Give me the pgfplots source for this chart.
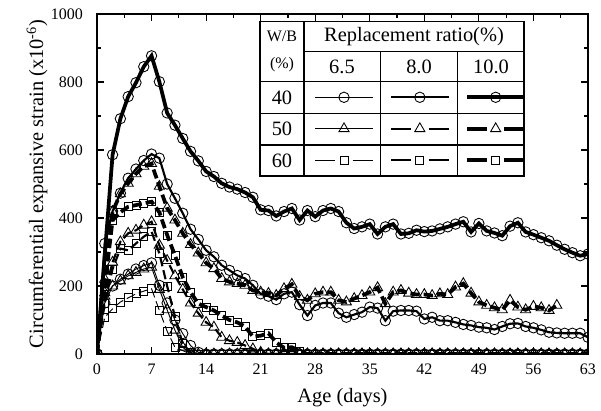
\documentclass[border=0pt]{standalone}
\usepackage{fontspec}
\setmainfont{Liberation Serif}
\usepackage{pgfplots}
\pgfplotsset{compat=1.18}

% legend glyphs: one cell of the W/B x ratio table
\pgfplotsset{
  legsolid/.style={legend image code/.code={
      \path[draw=none,fill=none] (-27.94pt,-11.78pt) rectangle (27.94pt,11.78pt);
      \draw[##1,solid] (-21.5pt,0pt) -- (21.5pt,0pt);
      \draw[##1,only marks] plot coordinates {(0pt,0pt)};}},
  leggap/.style={legend image code/.code={
      \path[draw=none,fill=none] (-27.94pt,-11.78pt) rectangle (27.94pt,11.78pt);
      \draw[##1,solid] (-21.5pt,0pt) -- (-6.5pt,0pt) (6.5pt,0pt) -- (21.5pt,0pt);
      \draw[##1,only marks] plot coordinates {(0pt,0pt)};}},
  lw1/.style={line width=0.7pt},
  lw2/.style={line width=1.6pt},
  lw3/.style={line width=2.8pt},
  dsh/.style={dash pattern=on 7pt off 3pt},
  mk/.style={mark options={solid,fill=white,line width=0.65pt}},
  circ/.style={mark=o,mark size=3.9pt},
  tri/.style={mark=triangle,mark size=4.4pt},
  sqr/.style={mark=square,mark size=3pt},
}

\begin{document}
\begin{tikzpicture}
\begin{axis}[
    scale only axis,
    width=368.25pt, height=255pt,
    xmin=0, xmax=63, ymin=0, ymax=1000,
    xtick={0,7,...,63}, ytick={0,200,...,1000},
    minor x tick num=1, minor y tick num=1,
    tick align=inside, tick pos=both,
    major tick length=5pt, minor tick length=3pt,
    every tick/.style={black,line width=0.9pt},
    axis line style={line width=1.1pt},
    /pgf/number format/assume math mode=true,
    /pgf/number format/1000 sep={},
    ticklabel style={font=\fontsize{12}{14}\selectfont},
    xticklabel style={yshift=-4pt},
    yticklabel style={xshift=-7pt},
    label style={font=\fontsize{15.3}{17}\selectfont},
    xlabel={Age (days)},
    ylabel={Circumferential expansive strain (x10\textsuperscript{-6})},
    xlabel style={at={(axis description cs:0.5,-0.127)},anchor=center},
    ylabel style={at={(axis description cs:-0.122,0.5)},anchor=center},
    clip marker paths=true,
    legend columns=3,
    legend style={at={(rel axis cs:0.4272,0.8012)},anchor=north west,
      draw=none,fill=none,inner sep=0pt,outer sep=0pt,
      row sep=0pt,column sep=0pt,
      nodes={inner sep=0pt,outer sep=0pt}},
  ]

% W/B 40, 6.5
\addplot[lw1,circ,mk,legsolid] coordinates {
(0,0) (1,150) (2,200) (3,220) (4,235) (5,250) (6,260) (7,268) (8,202) (9,150)
(10,100) (11,60) (12,25) (13,5) (14,0) (15,0) (16,0) (17,0) (18,0) (19,0) (20,0)
(21,0) (22,0) (23,0) (24,0) (25,0) (26,0) (27,0) (28,0) (29,0) (30,0) (31,0)
(32,0) (33,0) (34,0) (35,0) (36,0) (37,0) (38,0) (39,0) (40,0) (41,0) (42,0)
(43,0) (44,0) (45,0) (46,0) (47,0) (48,0) (49,0) (50,0) (51,0) (52,0) (53,0)
(54,0) (55,0) (56,0) (57,0) (58,0) (59,0) (60,0) (61,0) (62,0) (63,0)};
\addlegendentry{\mbox{}}
% W/B 40, 8.0
\addplot[lw2,circ,mk,legsolid] coordinates {
(0,0) (1,325) (2,420) (3,473) (4,517) (5,544) (6,569) (7,588) (8,576) (9,500)
(10,458) (11,414) (12,367) (13,337) (14,305) (15,286) (16,261) (17,246) (18,231)
(19,222) (20,202) (21,177) (22,170) (23,160) (24,177) (25,182) (26,145) (27,113)
(28,143) (29,150) (30,150) (31,120) (32,108) (33,116) (34,123) (35,138) (36,135)
(37,98) (38,126) (39,128) (40,128) (41,126) (42,103) (43,108) (44,98) (45,98)
(46,93) (47,87) (48,84) (49,79) (50,77) (51,72) (52,81) (53,89) (54,90) (55,81)
(56,77) (57,71) (58,64) (59,62) (60,61) (61,61) (62,61) (63,49)};
\addlegendentry{\mbox{}}
% W/B 40, 10.0
\addplot[lw3,circ,mk,legsolid] coordinates {
(0,0) (2,586) (3,692) (4,757) (5,798) (6,845) (7,877) (8,801) (9,709) (10,673)
(11,634) (12,596) (13,568) (14,537) (15,522) (16,502) (17,491) (18,485) (19,475)
(20,461) (21,424) (22,422) (23,406) (24,419) (25,428) (26,394) (27,422) (28,404)
(29,422) (30,428) (31,419) (32,386) (33,369) (34,374) (35,382) (36,353) (37,374)
(38,382) (39,353) (40,355) (41,364) (42,360) (43,362) (44,368) (45,374) (46,382)
(47,389) (48,359) (49,384) (50,362) (51,356) (52,348) (53,376) (54,386) (55,359)
(56,351) (57,342) (58,333) (59,320) (60,308) (61,298) (62,289) (63,294)};
\addlegendentry{\mbox{}}

% W/B 50, 6.5
\addplot[lw1,tri,mk,legsolid] coordinates {
(0,0) (1,170) (2,200) (3,215) (4,230) (5,240) (6,250) (7,255) (8,190) (9,130)
(10,70) (11,20) (12,0) (13,0) (14,0) (15,0) (16,0) (17,0) (18,0) (19,0) (20,0)
(21,0) (22,0) (23,0) (24,0) (25,0) (26,0) (27,0) (28,0) (29,0) (30,0) (31,0)
(32,0) (33,0) (34,0) (35,0) (36,0) (37,0) (38,0) (39,0) (40,0) (41,0) (42,0)
(43,0) (44,0) (45,0) (46,0) (47,0) (48,0) (49,0) (50,0) (51,0) (52,0) (53,0)
(54,0) (55,0) (56,0) (57,0) (58,0) (59,0) (60,0) (61,0) (62,0) (63,0)};
\addlegendentry{\mbox{}}
% W/B 50, 8.0
\addplot[lw2,dsh,tri,mk,leggap] coordinates {
(0,0) (1,180) (2,270) (3,330) (4,355) (5,364) (6,379) (7,389) (8,320) (9,275)
(10,230) (11,190) (12,150) (13,120) (14,93) (15,79) (16,49) (17,39) (18,34)
(19,25) (20,15) (21,5) (22,0) (23,0) (24,0) (25,0) (26,0) (27,0) (28,0) (29,0)
(30,0) (31,0) (32,0) (33,0) (34,0) (35,0) (36,0) (37,0) (38,0) (39,0) (40,0)
(41,0) (42,0) (43,0) (44,0) (45,0) (46,0) (47,0) (48,0) (49,0) (50,0) (51,0)
(52,0) (53,0) (54,0) (55,0) (56,0) (57,0) (58,0) (59,0) (60,0) (61,0) (62,0) (63,0)};
\addlegendentry{\mbox{}}
% W/B 50, 10.0
\addplot[lw3,dsh,tri,mk,leggap] coordinates {
(0,0) (1,220) (2,419) (3,471) (4,502) (5,530) (6,552) (7,560) (8,493) (9,429)
(10,394) (11,355) (12,322) (13,297) (14,268) (15,251) (16,222) (17,212) (18,207)
(19,202) (20,187) (21,182) (22,178) (23,172) (24,192) (25,205) (26,169) (27,158)
(28,177) (29,182) (30,182) (31,158) (32,153) (33,163) (34,172) (35,182) (36,195)
(37,148) (38,182) (39,187) (40,179) (41,175) (42,175) (43,172) (44,177) (45,175)
(46,197) (47,207) (48,179) (49,153) (50,143) (51,136) (52,130) (53,158) (54,138)
(55,130) (56,140) (57,136) (58,128) (59,143)};
\addlegendentry{\mbox{}}

% W/B 60, 6.5
\addplot[lw1,dsh,sqr,mk,leggap] coordinates {
(0,0) (1,108) (2,133) (3,153) (4,165) (5,177) (6,185) (7,192) (8,128) (9,67)
(10,20) (11,10) (12,0) (13,0) (14,0) (15,0) (16,0) (17,0) (18,0) (19,0) (20,0)
(21,0) (22,0) (23,0) (24,0) (25,0) (26,0) (27,0) (28,0) (29,0) (30,0) (31,0)
(32,0) (33,0) (34,0) (35,0) (36,0) (37,0) (38,0) (39,0) (40,0) (41,0) (42,0)
(43,0) (44,0) (45,0) (46,0) (47,0) (48,0) (49,0) (50,0) (51,0) (52,0) (53,0)
(54,0) (55,0) (56,0) (57,0) (58,0) (59,0) (60,0) (61,0) (62,0) (63,0)};
\addlegendentry{\mbox{}}
% W/B 60, 8.0
\addplot[lw2,dsh,sqr,mk,leggap] coordinates {
(0,0) (1,150) (2,250) (3,310) (4,305) (5,325) (6,345) (7,360) (8,296) (9,200)
(10,110) (11,30) (12,5) (13,0) (14,0) (15,0) (16,0) (17,0) (18,0) (19,0) (20,0)
(21,0) (22,0) (23,0) (24,0) (25,0) (26,0) (27,0) (28,0) (29,0) (30,0) (31,0)
(32,0) (33,0) (34,0) (35,0) (36,0) (37,0) (38,0) (39,0) (40,0) (41,0) (42,0)
(43,0) (44,0) (45,0) (46,0) (47,0) (48,0) (49,0) (50,0) (51,0) (52,0) (53,0)
(54,0) (55,0) (56,0) (57,0) (58,0) (59,0) (60,0) (61,0) (62,0) (63,0)};
\addlegendentry{\mbox{}}
% W/B 60, 10.0
\addplot[lw3,dsh,sqr,mk,leggap] coordinates {
(0,0) (1,200) (2,394) (3,417) (4,433) (5,438) (6,443) (7,448) (8,417) (9,350)
(10,290) (11,226) (12,182) (13,148) (14,138) (15,128) (16,113) (17,100) (18,93)
(19,81) (20,51) (21,54) (22,61) (23,34) (24,18) (25,20) (26,8) (27,0) (28,0)
(29,0) (30,0) (31,0) (32,0) (33,0) (34,0) (35,0) (36,0) (37,0) (38,0) (39,0)
(40,0) (41,0) (42,0) (43,0) (44,0) (45,0) (46,0) (47,0) (48,0) (49,0) (50,0)
(51,0) (52,0) (53,0) (54,0) (55,0) (56,0) (57,0) (58,0) (59,0) (60,0) (61,0) (62,0) (63,0)};
\addlegendentry{\mbox{}}
\end{axis}

% table frame and headings, in pixel units of the 601x411 picture
\begin{scope}[x=0.75pt,y=-0.75pt,shift={(-97,-354)}]
  \draw[line width=0.8pt] (260,21.7) rectangle (524,176);
  \draw[line width=0.8pt] (304,21.7) -- (304,176);
  \draw[line width=0.8pt] (380.7,51.7) -- (380.7,176) (457.7,51.7) -- (457.7,176);
  \draw[line width=0.8pt] (304,51.7) -- (524,51.7);
  \draw[line width=0.8pt] (260,81.7) -- (524,81.7) (260,113.3) -- (524,113.3)
    (260,145) -- (524,145);
  \begin{scope}[every node/.style={inner sep=0pt,font=\fontsize{15.3}{17}\selectfont}]
    \node at (282,36) {\fontsize{12}{14}\selectfont W/B};
    \node at (282,65) {\fontsize{12}{14}\selectfont (\%)};
    \node at (414,36.7) {Replacement ratio(\%)};
    \node at (342,67) {6.5};
    \node at (419,67) {8.0};
    \node at (491,67) {10.0};
    \node at (282,97.5) {40};
    \node at (282,129.2) {50};
    \node at (282,160.5) {60};
  \end{scope}
  \pgfresetboundingbox
  \path[use as bounding box] (0,0) rectangle (601,411);
\end{scope}
\end{tikzpicture}
\end{document}
